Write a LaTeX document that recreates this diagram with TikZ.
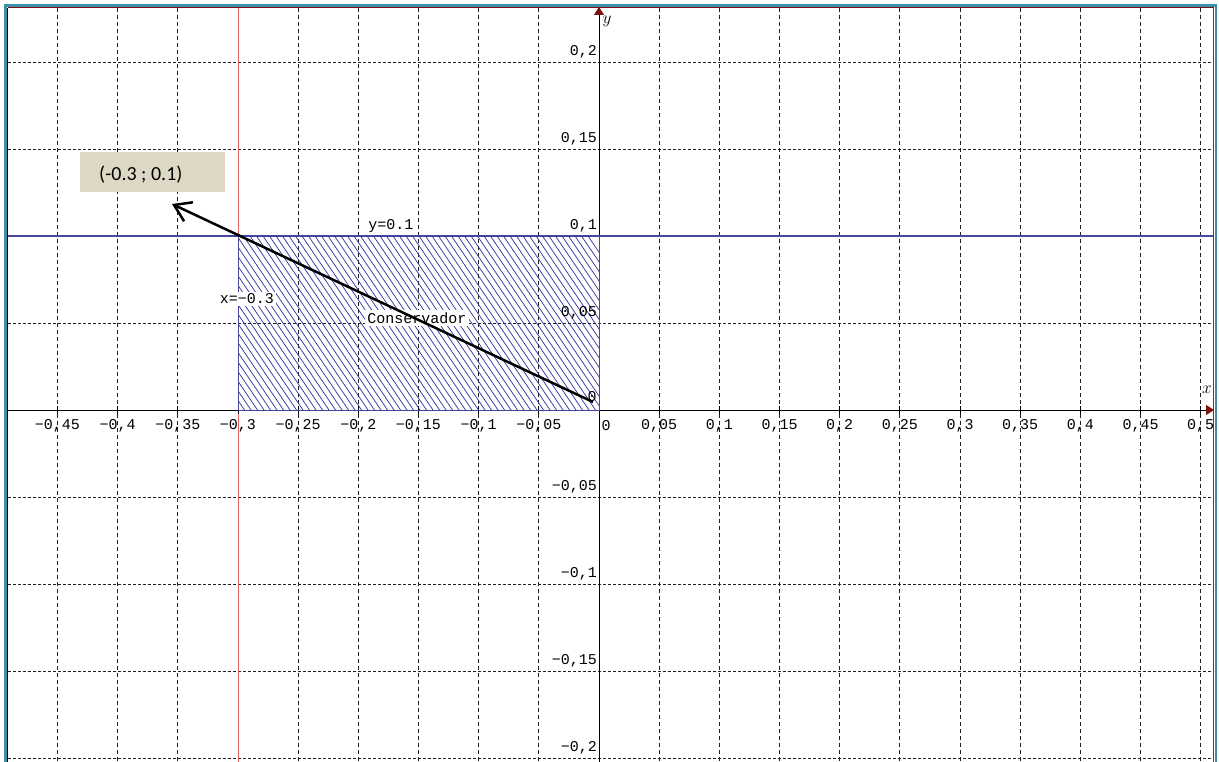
\documentclass[tikz,border=0pt]{standalone}
\usepackage{fontspec}
\usetikzlibrary{arrows.meta}
\newfontfamily\monof{Liberation Mono}
\newfontfamily\calf{Carlito}
\definecolor{gridc}{HTML}{202020}
\definecolor{redl}{HTML}{E06666}
\definecolor{bluel}{HTML}{4646A0}
\definecolor{hatchc}{HTML}{3030A0}
\definecolor{beige}{HTML}{DCD8C3}
\definecolor{tealc}{HTML}{3F8FA8}
\definecolor{darkred}{HTML}{7A1010}
\definecolor{brownc}{HTML}{5A3A3A}
\tikzset{
  vgrid/.style={gridc, line width=0.8pt, dash pattern=on 4pt off 3pt},
  hgrid/.style={gridc, line width=0.8pt, dash pattern=on 3pt off 2pt},
  ticklab/.style={font=\monof\fontsize{15}{15}\selectfont, inner sep=0pt},
  eqlab/.style={font=\monof\fontsize{15}{15}\selectfont, fill=white, inner sep=2pt},
  axisline/.style={black, line width=0.9pt},
  axtip/.style={-{Triangle[length=8pt,width=10pt,fill=darkred,color=darkred]}}
}
\begin{document}
\begin{tikzpicture}[x=1pt,y=-1pt]
\useasboundingbox (0,0) rectangle (1219,762);
\fill[white] (0,0) rectangle (1219,762);
% grid
\foreach \k in {-9,...,10}{
  \draw[vgrid] ({599+\k*60.167},8) -- ({599+\k*60.167},762);
}
\foreach \j in {-4,...,4}{
  \draw[hgrid] (8,{410+\j*87}) -- (1213,{410+\j*87});
}
% red line x=-0.3
\draw[redl, line width=0.9pt] (238,8) -- (238,762);
% blue line y=0.1
\draw[bluel, line width=1.5pt] (8,236) -- (1213,236);
% axes
\coordinate (xs) at (8,410);
\coordinate (xe) at (1214,410);
\coordinate (ys) at (599,762);
\coordinate (ye) at (599,7);
\draw[axisline, axtip] (xs) -- (xe);
\draw[axisline, axtip] (ys) -- (ye);
\foreach \k in {-9,...,10}{
  \draw[black, line width=0.8pt] ({599+\k*60.167},406) -- ({599+\k*60.167},414);
}
\node[font=\fontsize{16}{16}\selectfont, inner sep=0pt] (xlab) at (1207,390) {$x$};
\node[font=\fontsize{16}{16}\selectfont, inner sep=0pt] (ylab) at (607,21) {$y$};
% hatched region
\begin{scope}
  \clip (238,236) rectangle (599,410);
  \foreach \i in {0,...,72}{
    \draw[hatchc, line width=0.7pt] ({120+\i*6.5},236) -- ({238+\i*6.5},410);
  }
\end{scope}
\draw[bluel, line width=1pt] (238,236) rectangle (599,410);
% x tick labels
\foreach \k/\t in {-9/−0{,}45,-8/−0{,}4,-7/−0{,}35,-6/−0{,}3,-5/−0{,}25,-4/−0{,}2,-3/−0{,}15,-2/−0{,}1,-1/−0{,}05,1/0{,}05,2/0{,}1,3/0{,}15,4/0{,}2,5/0{,}25,6/0{,}3,7/0{,}35,8/0{,}4,9/0{,}45,10/0{,}5}{
  \node[ticklab] at ({599+\k*60.167},426) {\t};
}
\node[ticklab] (x0) at (606,426) {0};
% y tick labels
\foreach \j/\t in {-4/0{,}2,-3/0{,}15,-2/0{,}1,-1/0{,}05,1/−0{,}05,2/−0{,}1,3/−0{,}15,4/−0{,}2}{
  \node[ticklab, anchor=south east] at (597,{410+\j*87-4}) {\t};
}
\node[ticklab] (y0) at (592,397) {0};
% equation labels
\node[eqlab] (ylabel) at (391,226) {y=0.1};
\node[eqlab] (xlabel) at (247,299) {x=−0.3};
\node[eqlab] (cons) at (417,318) {Conservador};
% arrow
\coordinate (O) at (593,402);
\coordinate (tip) at (172,204);
\draw[black, line width=2.5pt, -{Straight Barb[length=16pt,width=21pt,line width=2.5pt]}] (O) -- (tip);
% callout
\node[fill=beige, minimum width=145pt, minimum height=40pt, inner sep=0pt] (callout) at (152.5,172) {};
\node[font=\calf\fontsize{20}{20}\selectfont, inner sep=0pt, anchor=west] (ctext) at (99,175) {(-0.3 ; 0.1)};
% frame
\draw[tealc, line width=2.5pt] (5.5,762) -- (5.5,5.5) -- (1216,5.5) -- (1216,762);
\draw[black, line width=1pt] (7.5,762) -- (7.5,8);
\draw[darkred, line width=1pt] (7.5,8) -- (1213.5,8);
\draw[brownc, line width=1.5pt] (1213.5,8) -- (1213.5,762);
\end{tikzpicture}
\end{document}
